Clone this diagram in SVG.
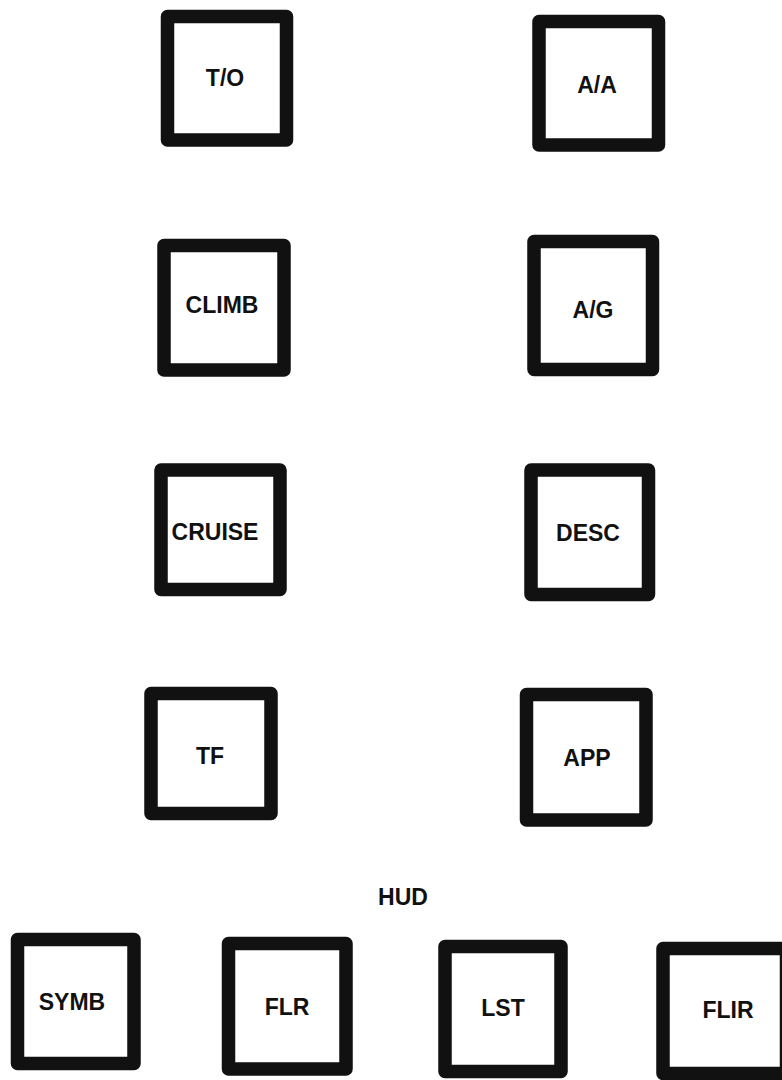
<svg xmlns="http://www.w3.org/2000/svg" width="782" height="1080" viewBox="0 0 782 1080">
<style>
.key{fill:none;stroke:#111;stroke-width:13.5;stroke-linejoin:round}
.lbl{font-family:"Liberation Sans",Arial,Helvetica,sans-serif;font-weight:bold;font-size:23px;fill:#111;text-anchor:middle}
</style>
<rect width="782" height="1080" fill="#fff"/>
<g id="node-TO"><rect class="key" x="167.5" y="16.5" width="119" height="123.5"/><text class="lbl" x="225" y="86">T/O</text></g>
<g id="node-AA"><rect class="key" x="539" y="21.5" width="119.5" height="123.5"/><text class="lbl" x="597" y="93">A/A</text></g>
<g id="node-CLIMB"><rect class="key" x="164" y="245.5" width="120" height="124.5"/><text class="lbl" x="222" y="313">CLIMB</text></g>
<g id="node-AG"><rect class="key" x="534" y="241.5" width="118.5" height="128"/><text class="lbl" x="593" y="318">A/G</text></g>
<g id="node-CRUISE"><rect class="key" x="161" y="470" width="119" height="119.5"/><text class="lbl" x="215" y="540">CRUISE</text></g>
<g id="node-DESC"><rect class="key" x="531" y="470" width="117.5" height="124.5"/><text class="lbl" x="588" y="541">DESC</text></g>
<g id="node-TF"><rect class="key" x="151" y="693.5" width="120" height="120"/><text class="lbl" x="210" y="764">TF</text></g>
<g id="node-APP"><rect class="key" x="526.5" y="694.5" width="119.5" height="125.5"/><text class="lbl" x="587" y="766">APP</text></g>
<g id="label-HUD"><text class="lbl" x="403" y="905">HUD</text></g>
<g id="node-SYMB"><rect class="key" x="17.5" y="939.5" width="116.5" height="124"/><text class="lbl" x="72" y="1010">SYMB</text></g>
<g id="node-FLR"><rect class="key" x="228.5" y="943.5" width="117.5" height="125.5"/><text class="lbl" x="287" y="1015">FLR</text></g>
<g id="node-LST"><rect class="key" x="445" y="946.5" width="116" height="125"/><text class="lbl" x="503" y="1016">LST</text></g>
<g id="node-FLIR"><rect class="key" x="663" y="948.5" width="123.5" height="125"/><text class="lbl" x="728" y="1018">FLIR</text></g>
<g id="connectors"></g>
</svg>
